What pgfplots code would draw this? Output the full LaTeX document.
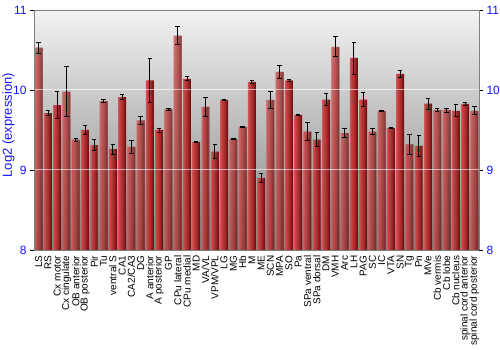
\documentclass[border=0pt]{standalone}
\usepackage{pgfplots}
\pgfplotsset{compat=1.18}
\usepackage{pgfplotstable}
\usepackage{fontspec}
\setmainfont{Liberation Sans}
\definecolor{tickblue}{RGB}{20,20,255}
\definecolor{bgtop}{RGB}{242,242,242}
\definecolor{bgbot}{RGB}{130,130,130}
\definecolor{frame}{RGB}{128,128,128}
\definecolor{b0}{RGB}{205,88,88}
\definecolor{b1}{RGB}{198,72,72}
\definecolor{b2}{RGB}{190,62,62}
\definecolor{b3}{RGB}{182,54,54}
\definecolor{b4}{RGB}{172,46,46}
\definecolor{b5}{RGB}{157,38,38}
\definecolor{b6}{RGB}{137,28,28}
\definecolor{b7}{RGB}{112,20,20}

\pgfplotstableread{
x y e
0 10.53 0.07
1 9.71 0.03
2 9.81 0.17
3 9.98 0.31
4 9.38 0.02
5 9.50 0.06
6 9.31 0.07
7 9.86 0.02
8 9.26 0.06
9 9.91 0.03
10 9.29 0.085
11 9.62 0.05
12 10.12 0.27
13 9.50 0.025
14 9.76 0.01
15 10.68 0.11
16 10.14 0.025
17 9.35 0.01
18 9.79 0.12
19 9.23 0.09
20 9.875 0.005
21 9.39 0.01
22 9.54 0.005
23 10.10 0.02
24 8.90 0.055
25 9.875 0.105
26 10.225 0.08
27 10.12 0.01
28 9.69 0.01
29 9.48 0.11
30 9.38 0.09
31 9.88 0.075
32 10.54 0.125
33 9.46 0.055
34 10.40 0.20
35 9.88 0.09
36 9.48 0.035
37 9.74 0.005
38 9.525 0.01
39 10.20 0.045
40 9.32 0.12
41 9.30 0.135
42 9.83 0.07
43 9.75 0.015
44 9.75 0.025
45 9.74 0.075
46 9.825 0.015
47 9.74 0.05
}\datatable

\begin{document}
\begin{tikzpicture}
\useasboundingbox (0,0) rectangle (500bp,350bp);
\begin{axis}[
  at={(34bp,100bp)}, anchor=south west,
  scale only axis, width=445bp, height=240bp,
  xmin=-0.5, xmax=47.5, ymin=8, ymax=11,
  ytick={8,9,10,11},
  xtick={0,...,47},
  xticklabels={LS,RS,Cx motor,Cx cingulate,OB anterior,OB posterior,Pir,Tu,ventral S,CA1,CA2/CA3,DG,A anterior,A posterior,GP,CPu lateral,CPu medial,MD,VA/VL,VPM/VPL,LG,MG,Hb,M,ME,SCN,MPA,SO,Pa,SPa ventral,SPa dorsal,DM,VMH,Arc,LH,PAG,SC,IC,VTA,SN,Tg,Pn,MVe,Cb vermis,Cb lobe,Cb nucleus,spinal cord anterior,spinal cord posterior},
  xticklabel style={rotate=90, anchor=east, font=\fontsize{10bp}{10bp}\selectfont, inner sep=1.5bp},
  x tick style={draw=none},
  yticklabel style={text=tickblue, font=\fontsize{12bp}{12bp}\selectfont},
  ytick pos=left,
  tick align=outside,
  major tick length=4bp,
  y tick style={black, line width=0.6bp},
  axis line style={frame, line width=0.8bp},
  axis background/.style={top color=bgtop, bottom color=bgbot},
  ymajorgrids,
  grid style={white, opacity=0.6, line width=1bp},
  axis on top,
  ylabel={Log2 (expression)},
  ylabel style={at={(axis description cs:-0.057,0.52)}, anchor=center, text=tickblue, font=\fontsize{13bp}{13bp}\selectfont},
  /pgf/number format/assume math mode=true,
  every axis plot/.append style={forget plot},
]
\addplot[ybar, bar width=0.112, bar shift=-0.37625, draw=none, fill=b0] table[x=x, y=y] {\datatable};
\addplot[ybar, bar width=0.112, bar shift=-0.26875, draw=none, fill=b1] table[x=x, y=y] {\datatable};
\addplot[ybar, bar width=0.112, bar shift=-0.16125, draw=none, fill=b2] table[x=x, y=y] {\datatable};
\addplot[ybar, bar width=0.112, bar shift=-0.05375, draw=none, fill=b3] table[x=x, y=y] {\datatable};
\addplot[ybar, bar width=0.112, bar shift=0.05375, draw=none, fill=b4] table[x=x, y=y] {\datatable};
\addplot[ybar, bar width=0.112, bar shift=0.16125, draw=none, fill=b5] table[x=x, y=y] {\datatable};
\addplot[ybar, bar width=0.112, bar shift=0.26875, draw=none, fill=b6] table[x=x, y=y] {\datatable};
\addplot[ybar, bar width=0.1075, bar shift=0.37625, draw=none, fill=b7] table[x=x, y=y] {\datatable};
\addplot[draw=none, mark=none,
  error bars/.cd, y dir=both, y explicit,
  error bar style={draw=black, line width=0.8bp},
  error mark options={draw=black, rotate=90, mark size=2.2bp, line width=0.8bp}]
  table[x=x, y=y, y error=e] {\datatable};
\end{axis}
\begin{axis}[
  at={(34bp,100bp)}, anchor=south west,
  scale only axis, width=445bp, height=240bp,
  xmin=-0.5, xmax=47.5, ymin=8, ymax=11,
  ytick={8,9,10,11},
  axis x line=none,
  axis y line*=right,
  yticklabel style={text=tickblue, font=\fontsize{12bp}{12bp}\selectfont},
  tick align=outside,
  major tick length=4bp,
  y tick style={black, line width=0.6bp},
  axis line style={frame, line width=0.8bp},
  /pgf/number format/assume math mode=true,
]
\addplot[draw=none] coordinates {(0,9)};
\end{axis}
\end{tikzpicture}
\end{document}
